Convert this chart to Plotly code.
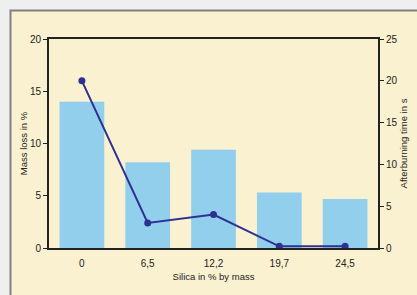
import plotly.graph_objects as go

categories = ["0", "6,5", "12,2", "19,7", "24,5"]
mass_loss = [14.0, 8.2, 9.4, 5.3, 4.7]
afterburning = [20.0, 3.0, 4.0, 0.2, 0.2]
left_ticks = [0, 5, 10, 15, 20]
right_ticks = [0, 5, 10, 15, 20, 25]

W, H = 417, 295
ml, mr, mt, mb = 49, 39, 39, 47
pw, ph = W - ml - mr, H - mt - mb

def px(x):
    return (x - ml) / pw

def py(y):
    return (H - mb - y) / ph

font = dict(family="Liberation Sans, Arial, sans-serif", size=10, color="#222222")

fig = go.Figure()
fig.add_trace(go.Bar(x=categories, y=mass_loss, marker=dict(color="#92cfec", line=dict(width=0)),
                     yaxis="y", showlegend=False))
fig.add_trace(go.Scatter(x=categories, y=afterburning, yaxis="y2", mode="lines+markers",
                         line=dict(color="#2e3192", width=2),
                         marker=dict(color="#2e3192", size=7), showlegend=False))

fig.update_layout(
    width=W, height=H, autosize=False,
    margin=dict(l=ml, r=mr, t=mt, b=mb, pad=0, autoexpand=False),
    paper_bgcolor="#efefef",
    plot_bgcolor="rgba(0,0,0,0)",
    font=font,
    bargap=0.32,
    shapes=[dict(type="rect", xref="paper", yref="paper",
                 x0=px(10.5), x1=px(W + 10), y0=py(H + 10), y1=py(10.5),
                 fillcolor="#faf1d0", line=dict(color="#808080", width=2), layer="below")],
    xaxis=dict(
        type="category", showgrid=False, zeroline=False,
        showline=True, linecolor="#222222", linewidth=2, mirror=True,
        ticks="", ticklabelstandoff=5,
        title=dict(text="Silica in % by mass", font=dict(size=9.5), standoff=5),
        tickfont=dict(size=10),
    ),
    yaxis=dict(
        range=[0, 20], tickvals=left_ticks, showgrid=False, zeroline=False,
        showline=True, linecolor="#222222", linewidth=2,
        ticks="outside", ticklen=4, tickcolor="#222222", tickwidth=1,
        title=dict(text="Mass loss in %", font=dict(size=9.5), standoff=1),
        tickfont=dict(size=10),
    ),
    yaxis2=dict(
        range=[0, 25], tickvals=right_ticks, overlaying="y", side="right",
        showgrid=False, zeroline=False,
        showline=True, linecolor="#222222", linewidth=2,
        ticks="outside", ticklen=4, tickcolor="#222222", tickwidth=1,
        title=dict(text="Afterburning time in s", font=dict(size=9.5), standoff=2),
        tickfont=dict(size=10),
    ),
)

fig.write_html(
    "out.html",
    config={"displayModeBar": False},
    post_script="document.body.style.margin='0';document.body.style.overflow='hidden';document.body.style.background='#efefef';",
)
